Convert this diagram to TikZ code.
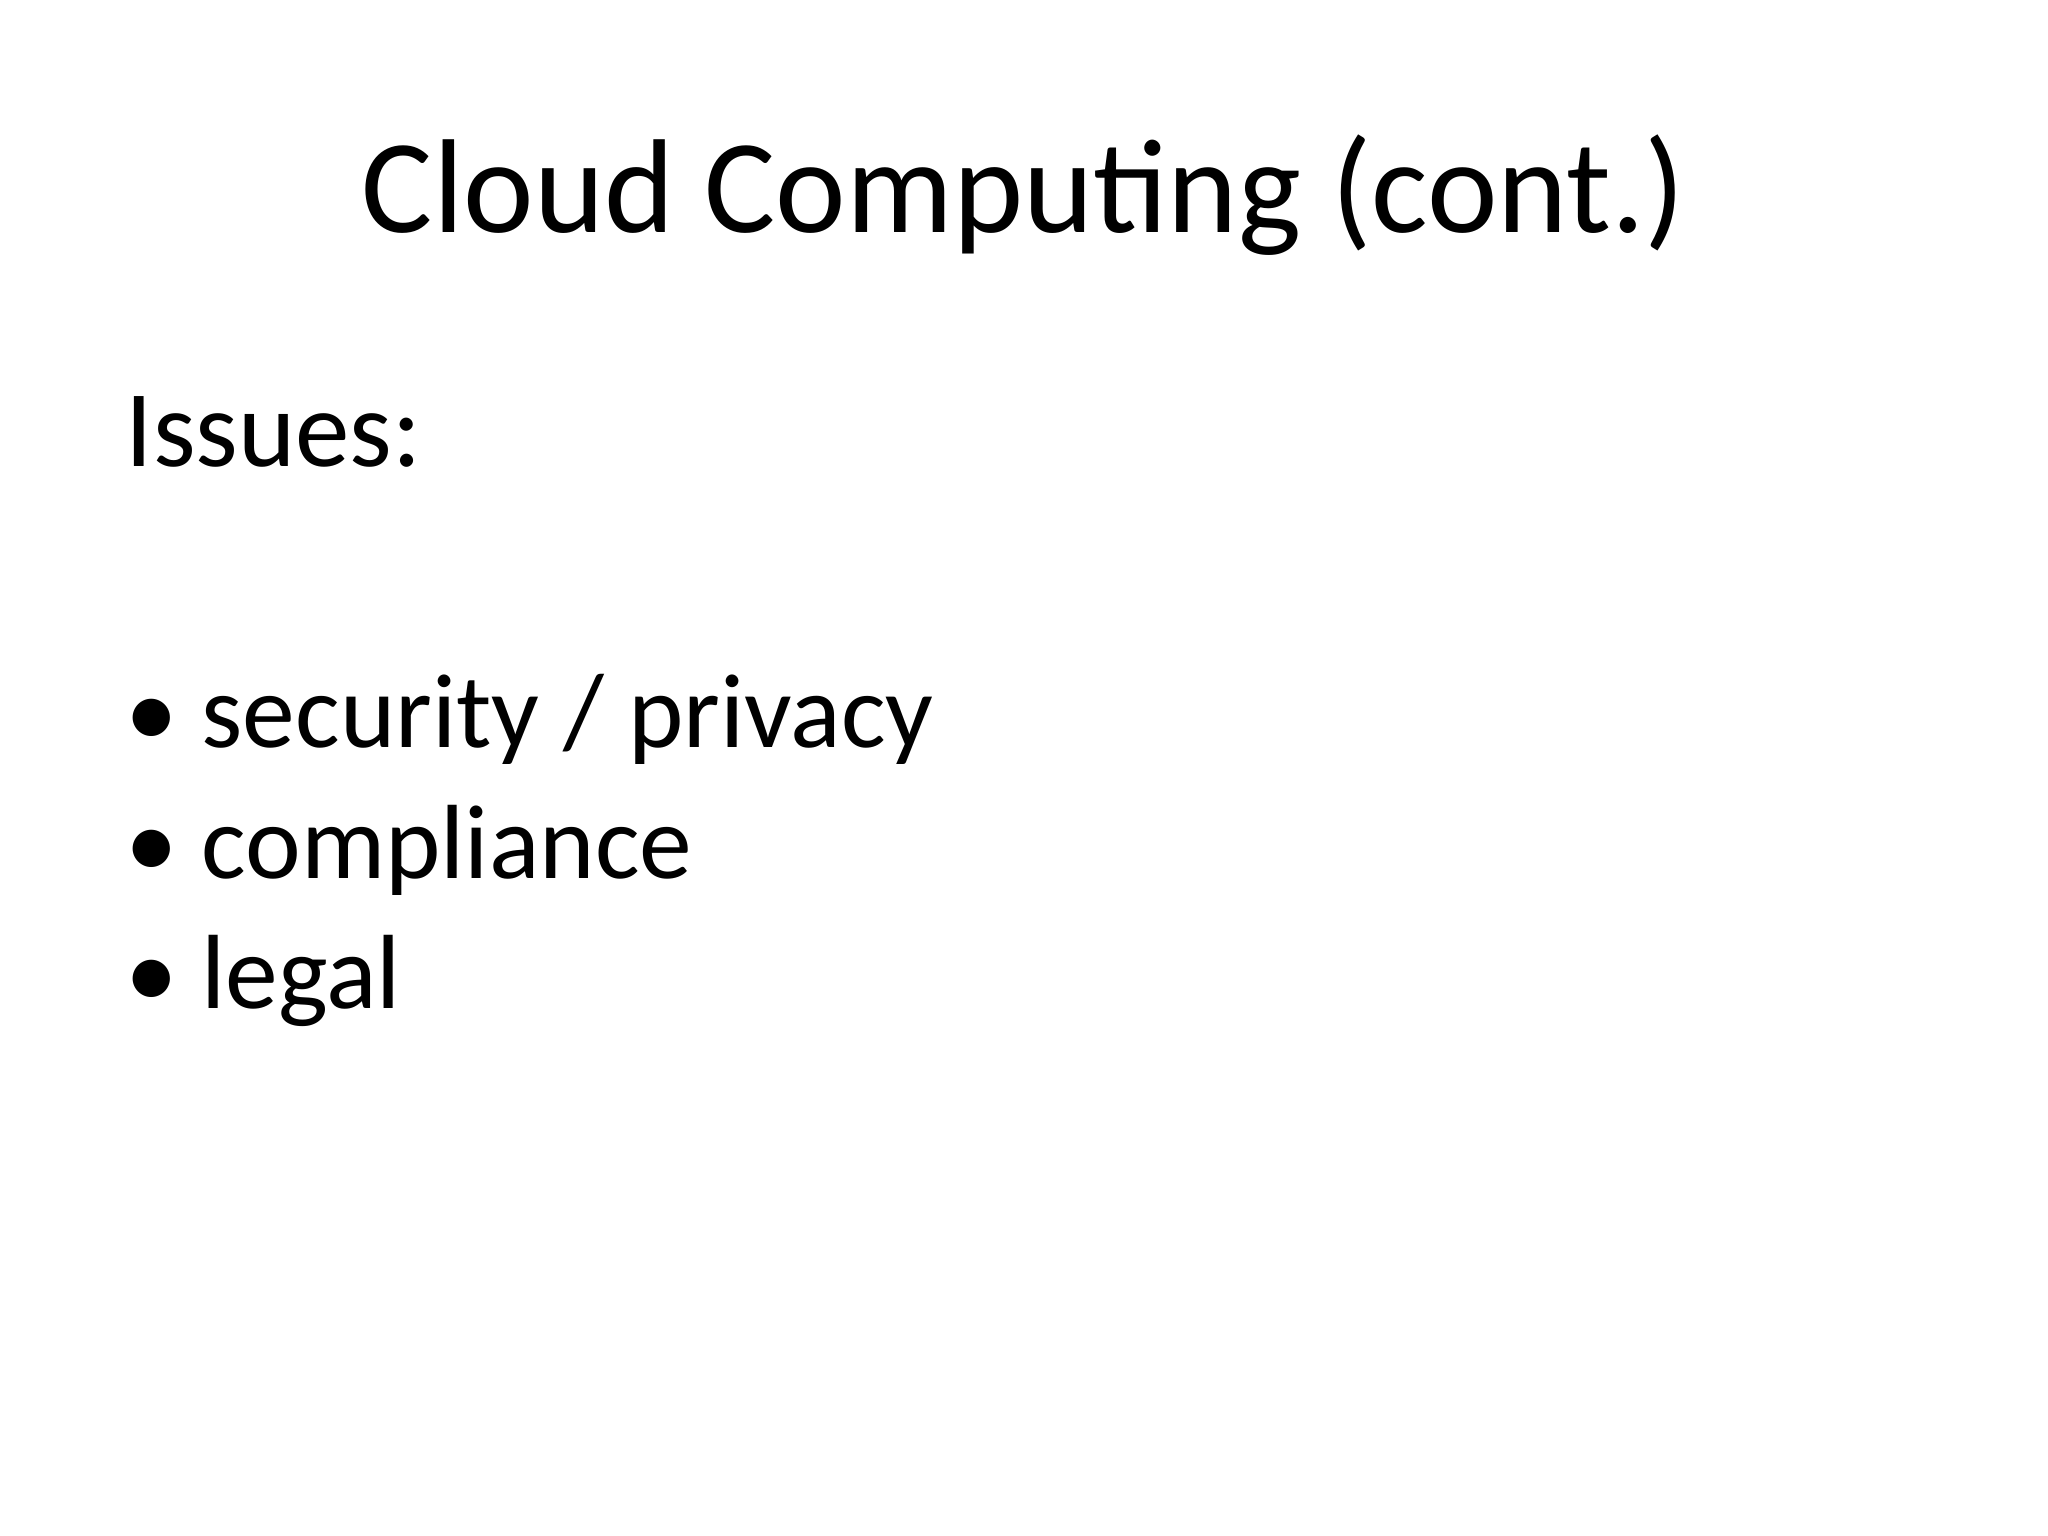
\documentclass[tikz,border=0pt]{standalone}
\usepackage{fontspec}
\setmainfont{Carlito}
\begin{document}
\begin{tikzpicture}[x=0.01cm,y=-0.01cm,
  item/.style={anchor=base west,inner sep=0pt,font=\fontsize{30}{36}\selectfont}]
\useasboundingbox[fill=white] (0,0) rectangle (2048,1536);
\node[anchor=base,inner sep=0pt,font=\fontsize{38}{44}\selectfont] (title) at (1024,232) {Cloud Computing (cont.)};
\node[anchor=base west,inner sep=0pt,font=\fontsize{31}{36}\selectfont] (issues) at (125,466) {Issues:};
\node[item] (ba) at (125,747) {\textbullet};
\node[item] (ta) at (201,747) {security / privacy};
\node[item] (bb) at (125,878) {\textbullet};
\node[item] (tb) at (201,878) {compliance};
\node[item] (bc) at (125,1008) {\textbullet};
\node[item] (tc) at (201,1008) {legal};
\end{tikzpicture}
\end{document}
